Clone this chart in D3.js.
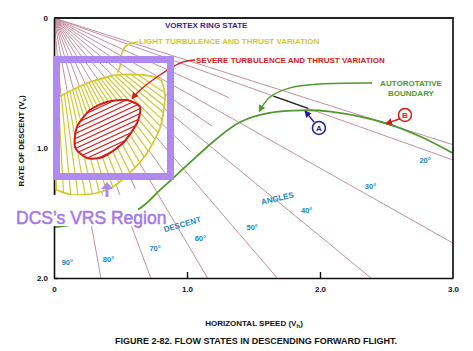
<!DOCTYPE html>
<html lang="en">
<head>
<meta charset="UTF-8" />
<title>Flow states in descending forward flight</title>
<script src="https://cdn.jsdelivr.net/npm/d3@7"></script>
<style>
  body { margin: 0; background: #fff; }
  svg text { font-family: "Liberation Sans", Arial, sans-serif; font-weight: bold; }
</style>
</head>
<body>
<div class="chart"></div>
<script>
// descent angle lines (degrees)
var majorAngles = [18, 20, 30, 40, 50, 60, 70, 80];
var minorAngles = [25, 35, 45, 55, 65, 75, 85];
var angleLabels = ["90°", "80°", "70°", "60°", "50°", "40°", "30°", "20°"];
var angleLabelH = [0.10, 0.41, 0.76, 1.10, 1.49, 1.90, 2.38, 2.79];
var angleLabelV = [1.88, 1.85, 1.77, 1.69, 1.61, 1.48, 1.29, 1.09];

// autorotative boundary (horizontal speed, rate of descent)
var boundaryH = [0, 0.16, 0.62, 0.80, 1.02, 1.21, 1.40, 1.62, 1.87, 2.08, 2.50, 2.75, 3.0];
var boundaryV = [1.61, 1.585, 1.48, 1.32, 1.115, 0.94, 0.80, 0.73, 0.71, 0.72, 0.81, 0.91, 1.04];

// light turbulence region outline
var lightH = [0, 0.02, 0.25, 0.47, 0.67, 0.80, 0.835, 0.80, 0.70, 0.57, 0.44, 0.32, 0.14, 0.02, 0];
var lightV = [0.62, 0.615, 0.50, 0.438, 0.438, 0.477, 0.608, 0.838, 1.038, 1.192, 1.30, 1.346, 1.362, 1.323, 1.32];

// severe turbulence region outline
var severeH = [0.647, 0.624, 0.519, 0.368, 0.248, 0.158, 0.173, 0.271, 0.398, 0.549];
var severeV = [0.685, 0.808, 0.962, 1.069, 1.077, 0.992, 0.838, 0.708, 0.646, 0.631];

var xTicks = [0, 1, 2, 3], xTickLabels = ["0", "1.0", "2.0", "3.0"];
var yTicks = [0, 1, 2], yTickLabels = ["0", "1.0", "2.0"];

var w = 473, h = 351;
var svg = d3.select(".chart").append("svg").attr("width", w).attr("height", h);

var x = d3.scaleLinear().domain([0, 3]).range([54, 453]);
var y = d3.scaleLinear().domain([0, 2]).range([18, 278]);

var pink = "#c4909f", yellow = "#d3c82c", red = "#d41a1a", green = "#4f9a2c",
    blue = "#1a86bd", navy = "#1c1c9c", purple = "#b189f2";

function zip(a, b) { return a.map(function(d, i) { return [d, b[i]]; }); }
function gen(curve) {
  return d3.line().x(function(d) { return x(d[0]); }).y(function(d) { return y(d[1]); }).curve(curve);
}
var blobLine = gen(d3.curveCardinalClosed.tension(0.3));
var smoothLine = gen(d3.curveCatmullRom);

// endpoint of a ray from origin clipped to plot frame
function rayEnd(a, rmax) {
  var t = Math.tan(a * Math.PI / 180);
  var hh = Math.min(3, 2 / t);
  if (rmax) hh = Math.min(hh, rmax * Math.cos(a * Math.PI / 180));
  return [hh, hh * t];
}

var defs = svg.append("defs");
defs.append("clipPath").attr("id", "plotclip").append("rect")
    .attr("x", 54).attr("y", 18).attr("width", 399).attr("height", 260);
defs.append("clipPath").attr("id", "lightclip").append("path")
    .attr("d", blobLine(zip(lightH, lightV)));
defs.append("clipPath").attr("id", "severeclip").append("path")
    .attr("d", blobLine(zip(severeH, severeV)));
var marker = defs.selectAll("marker").data([["arrG", green], ["arrR", red], ["arrB", navy]])
  .enter().append("marker")
    .attr("id", function(d) { return d[0]; })
    .attr("viewBox", "0 0 10 10").attr("refX", 8).attr("refY", 5)
    .attr("markerWidth", 5).attr("markerHeight", 5).attr("orient", "auto");
marker.append("path").attr("d", "M0,0L10,5L0,10z").attr("fill", function(d) { return d[1]; });

var plot = svg.append("g").attr("clip-path", "url(#plotclip)");

// angle rays
plot.selectAll("line.major").data(majorAngles).enter().append("line")
    .attr("class", "major")
    .attr("x1", x(0)).attr("y1", y(0))
    .attr("x2", function(d) { return x(rayEnd(d)[0]); })
    .attr("y2", function(d) { return y(rayEnd(d)[1]); })
    .attr("stroke", pink).attr("stroke-width", 1);
plot.selectAll("line.minor").data(minorAngles).enter().append("line")
    .attr("class", "minor")
    .attr("x1", x(0)).attr("y1", y(0))
    .attr("x2", function(d) { return x(rayEnd(d, 1.45)[0]); })
    .attr("y2", function(d) { return y(rayEnd(d, 1.45)[1]); })
    .attr("stroke", pink).attr("stroke-width", 1);

// dark tangent segments (A on 20 deg, B on 18 deg)
[[20, 1.65, 1.91], [18, 2.44, 2.57]].forEach(function(s) {
  var t = Math.tan(s[0] * Math.PI / 180);
  plot.append("line")
      .attr("x1", x(s[1])).attr("y1", y(s[1] * t))
      .attr("x2", x(s[2])).attr("y2", y(s[2] * t))
      .attr("stroke", "#222").attr("stroke-width", 1.2);
});

// light turbulence region
plot.append("path").attr("d", blobLine(zip(lightH, lightV))).attr("fill", "#fff");
var lg = plot.append("g").attr("clip-path", "url(#lightclip)");
lg.selectAll("line").data(d3.range(34, 90, 2.3)).enter().append("line")
    .attr("x1", x(0)).attr("y1", y(0))
    .attr("x2", function(d) { return x(0) + 300 * Math.cos(d * Math.PI / 180); })
    .attr("y2", function(d) { return y(0) + 300 * Math.sin(d * Math.PI / 180); })
    .attr("stroke", yellow).attr("stroke-width", 1.2);
plot.append("path").attr("d", blobLine(zip(lightH, lightV)))
    .attr("fill", "none").attr("stroke", yellow).attr("stroke-width", 1.7);

// severe turbulence region
plot.append("path").attr("d", blobLine(zip(severeH, severeV))).attr("fill", "#fff");
var sg = plot.append("g").attr("clip-path", "url(#severeclip)");
sg.selectAll("line").data(d3.range(-60, 80, 5)).enter().append("line")
    .attr("x1", 40).attr("y1", function(d) { return 120 + d; })
    .attr("x2", 180).attr("y2", function(d) { return 120 + d - 65; })
    .attr("stroke", red).attr("stroke-width", 1.1);
plot.append("path").attr("d", blobLine(zip(severeH, severeV)))
    .attr("fill", "none").attr("stroke", red).attr("stroke-width", 2);

// autorotative boundary
plot.append("path").attr("d", smoothLine(zip(boundaryH, boundaryV)))
    .attr("fill", "none").attr("stroke", green).attr("stroke-width", 1.8);

// leaders
svg.append("path").attr("d", smoothLine([[0.632, 0.185], [0.549, 0.208], [0.511, 0.269], [0.496, 0.377], [0.474, 0.423]]))
    .attr("fill", "none").attr("stroke", yellow).attr("stroke-width", 1.6);
svg.append("path").attr("d", smoothLine([[1.06, 0.323], [0.97, 0.338], [0.774, 0.454], [0.624, 0.577], [0.59, 0.618]]))
    .attr("fill", "none").attr("stroke", red).attr("stroke-width", 1.4).attr("marker-end", "url(#arrR)");
svg.append("path").attr("d", smoothLine([[2.391, 0.5], [2.0, 0.508], [1.774, 0.538], [1.624, 0.608], [1.545, 0.715]]))
    .attr("fill", "none").attr("stroke", green).attr("stroke-width", 1.4).attr("marker-end", "url(#arrG)");

// A and B callouts
svg.append("line").attr("x1", x(1.955)).attr("y1", y(0.8)).attr("x2", x(1.89)).attr("y2", y(0.718))
    .attr("stroke", navy).attr("stroke-width", 1.4).attr("marker-end", "url(#arrB)");
svg.append("circle").attr("cx", x(1.992)).attr("cy", y(0.846)).attr("r", 6.5)
    .attr("fill", "#fff").attr("stroke", navy).attr("stroke-width", 1.5);
svg.append("text").attr("x", x(1.992)).attr("y", y(0.846) + 3).attr("text-anchor", "middle")
    .attr("font-size", 8).attr("fill", navy).text("A");
svg.append("line").attr("x1", x(2.6)).attr("y1", y(0.775)).attr("x2", x(2.50)).attr("y2", y(0.812))
    .attr("stroke", red).attr("stroke-width", 1.4).attr("marker-end", "url(#arrR)");
svg.append("circle").attr("cx", x(2.639)).attr("cy", y(0.746)).attr("r", 6.5)
    .attr("fill", "#fff").attr("stroke", red).attr("stroke-width", 1.5);
svg.append("text").attr("x", x(2.639)).attr("y", y(0.746) + 3).attr("text-anchor", "middle")
    .attr("font-size", 8).attr("fill", red).text("B");

// frame
svg.append("path").attr("d", "M54,18H453V278").attr("fill", "none").attr("stroke", "#222").attr("stroke-width", 1.8);

// axes
var xAxis = d3.axisBottom(x).tickValues(xTicks).tickSizeInner(-6).tickSizeOuter(0).tickPadding(8)
    .tickFormat(function(d, i) { return xTickLabels[i]; });
var gx = svg.append("g").attr("transform", "translate(0,278)").call(xAxis);
var yAxis = d3.axisLeft(y).tickValues(yTicks).tickSizeInner(-4).tickSizeOuter(0).tickPadding(6)
    .tickFormat(function(d, i) { return yTickLabels[i]; });
var gy = svg.append("g").attr("transform", "translate(54,0)").call(yAxis);
[gx, gy].forEach(function(g) {
  g.select(".domain").attr("stroke", "#111").attr("stroke-width", 1.6);
  g.selectAll(".tick line").attr("stroke", "#111").attr("stroke-width", 1.4);
  g.selectAll(".tick text").attr("font-size", 8).attr("fill", "#111")
    .style("font-family", "'Liberation Sans', Arial, sans-serif").style("font-weight", "bold");
});
gx.selectAll(".tick").filter(function(d) { return d === 0 || d === 3; }).select("line").remove();
gy.selectAll(".tick").filter(function(d) { return d === 0; }).select("line").remove();

// angle labels
svg.selectAll("text.ang").data(angleLabels).enter().append("text")
    .attr("class", "ang")
    .attr("x", function(d, i) { return x(angleLabelH[i]); })
    .attr("y", function(d, i) { return y(angleLabelV[i]) + 3; })
    .attr("text-anchor", "middle").attr("font-size", 7.5).attr("fill", blue)
    .text(function(d) { return d; });
svg.append("text").attr("transform", "translate(183,227) rotate(-16)").attr("text-anchor", "middle")
    .attr("font-size", 8).attr("fill", blue).text("DESCENT");
svg.append("text").attr("transform", "translate(278,201) rotate(-13)").attr("text-anchor", "middle")
    .attr("font-size", 8).attr("fill", blue).text("ANGLES");

// region labels
svg.append("text").attr("x", 165).attr("y", 28).attr("font-size", 8).attr("fill", "#3a1c96").text("VORTEX RING STATE");
svg.append("text").attr("x", 139).attr("y", 44).attr("font-size", 8).attr("fill", yellow).text("LIGHT TURBULENCE AND THRUST VARIATION");
svg.append("text").attr("x", 196).attr("y", 63).attr("font-size", 8).attr("fill", red).text("SEVERE TURBULENCE AND THRUST VARIATION");
svg.append("text").attr("x", 411).attr("y", 86).attr("text-anchor", "middle").attr("font-size", 8).attr("fill", green).text("AUTOROTATIVE");
svg.append("text").attr("x", 411).attr("y", 96).attr("text-anchor", "middle").attr("font-size", 8).attr("fill", green).text("BOUNDARY");

// axis titles and caption
var yt = svg.append("text").attr("transform", "translate(24,141) rotate(-90)").attr("text-anchor", "middle")
    .attr("font-size", 8).attr("fill", "#111").text("RATE OF DESCENT (V");
yt.append("tspan").attr("font-size", 6).attr("dy", 2).text("v");
yt.append("tspan").attr("dy", -2).text(")");
var xt = svg.append("text").attr("x", 254).attr("y", 326).attr("text-anchor", "middle")
    .attr("font-size", 8).attr("fill", "#111").text("HORIZONTAL SPEED (V");
xt.append("tspan").attr("font-size", 6).attr("dy", 2).text("h");
xt.append("tspan").attr("dy", -2).text(")");
svg.append("text").attr("x", 256).attr("y", 344).attr("text-anchor", "middle")
    .attr("font-size", 9).attr("fill", "#111").text("FIGURE 2-82. FLOW STATES IN DESCENDING FORWARD FLIGHT.");

// DCS overlay
svg.append("rect").attr("x", 56.5).attr("y", 59.5).attr("width", 114).attr("height", 117)
    .attr("fill", "none").attr("stroke", purple).attr("stroke-width", 7);
svg.append("rect").attr("x", 10).attr("y", 195).attr("width", 128).attr("height", 31).attr("fill", "#fff");
svg.append("line").attr("x1", 107).attr("y1", 197).attr("x2", 107).attr("y2", 188)
    .attr("stroke", purple).attr("stroke-width", 3);
svg.append("path").attr("d", "M101,189L107,182L113,189Z").attr("fill", purple);
svg.append("text").attr("x", 16).attr("y", 224).attr("font-size", 17.5)
    .style("font-weight", "normal").attr("fill", "#a677ea")
    .attr("stroke", "#a677ea").attr("stroke-width", 0.5).text("DCS’s VRS Region");
</script>
</body>
</html>
